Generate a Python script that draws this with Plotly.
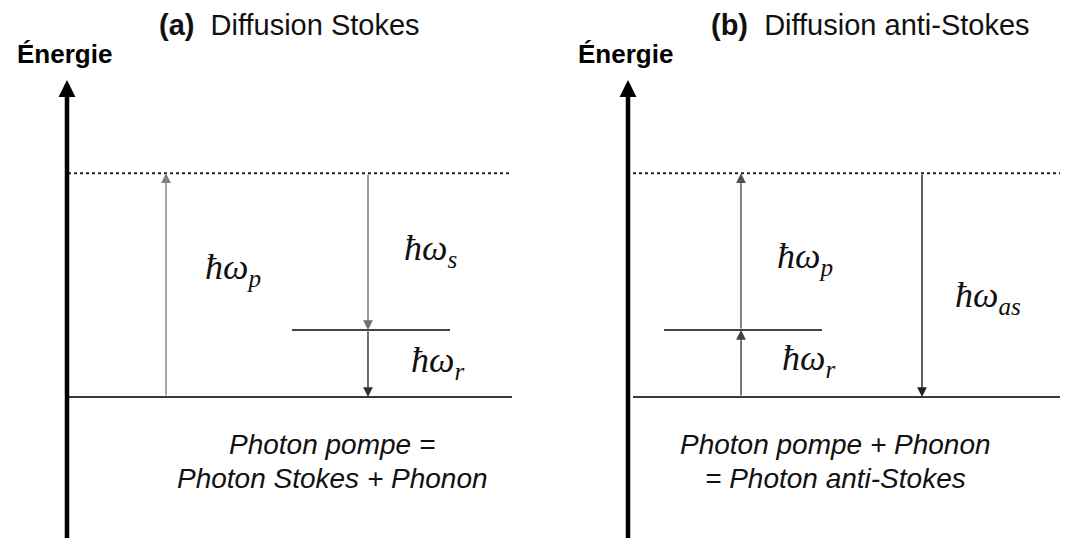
import plotly.graph_objects as go

# Energy levels (in units of the phonon energy ħω_r)
E_ground = 0.0
E_vib = 1.0
E_virtual = 3.34

# Panel definitions
panel_tags = ["(a)", "(b)"]
panel_titles = ["Diffusion Stokes", "Diffusion anti-Stokes"]
title_x = [289, 870]
energy_label = "Énergie"
axis_x = [67, 628]
level_x0 = [68, 633]
level_x1 = [512, 1068]
vib_x0 = [292, 664]
vib_x1 = [450, 822]
captions = [["Photon pompe =", "Photon Stokes + Phonon"],
            ["Photon pompe + Phonon", "= Photon anti-Stokes"]]
caption_x = [332, 835]

# Transitions: x position, start level, end level, colour
trans_x = [166, 368, 368, 741, 741, 922]
trans_from = [E_ground, E_virtual, E_vib, E_ground, E_vib, E_virtual]
trans_to = [E_virtual, E_vib, E_ground, E_vib, E_virtual, E_ground]
trans_color = ["#808080", "#707070", "#303030", "#404040", "#505050", "#202020"]

# Energy labels: subscript, x, level position
lab_sub = ["p", "s", "r", "p", "as", "r"]
lab_x = [233, 430, 437, 805, 988, 808]
lab_E = [1.9, 2.19, 0.52, 2.06, 1.49, 0.54]

# page offset compensation (default body margin of the html page)
X_RANGE = [8, 1076]
Y_RANGE = [-2.224, 5.806]

fig = go.Figure()
fig.add_trace(go.Scatter(x=X_RANGE, y=Y_RANGE, mode="markers",
                         marker=dict(opacity=0), hoverinfo="skip", showlegend=False))

shapes = []
annotations = []
for i in range(2):
    shapes.append(dict(type="line", xref="x", yref="y", x0=level_x0[i], x1=level_x1[i],
                       y0=E_virtual, y1=E_virtual, line=dict(color="#222", width=2, dash="dot")))
    shapes.append(dict(type="line", xref="x", yref="y", x0=level_x0[i], x1=level_x1[i],
                       y0=E_ground, y1=E_ground, line=dict(color="#3a3a3a", width=2)))
    shapes.append(dict(type="line", xref="x", yref="y", x0=vib_x0[i], x1=vib_x1[i],
                       y0=E_vib, y1=E_vib, line=dict(color="#444", width=2)))
    annotations.append(dict(x=axis_x[i], y=4.73, ax=axis_x[i], ay=-2.4, xref="x", yref="y",
                            axref="x", ayref="y", text="", showarrow=True, arrowhead=2,
                            arrowsize=0.75, arrowwidth=4.5, arrowcolor="black"))
    annotations.append(dict(x=axis_x[i] - 3, y=5.12, xref="x", yref="y", text="<b>" + energy_label + "</b>",
                            showarrow=False, font=dict(family="Liberation Sans", size=26, color="black")))
    annotations.append(dict(x=title_x[i], y=5.55, xref="x", yref="y",
                            text="<b>" + panel_tags[i] + "</b>  " + panel_titles[i],
                            showarrow=False, borderpad=0,
                            font=dict(family="Liberation Sans", size=29, color="#111")))
    annotations.append(dict(x=caption_x[i], y=-0.716, xref="x", yref="y",
                            text="<i>" + captions[i][0] + "</i>",
                            showarrow=False, font=dict(family="Liberation Sans", size=28, color="#111")))
    annotations.append(dict(x=caption_x[i], y=-1.209, xref="x", yref="y",
                            text="<i>" + captions[i][1] + "</i>",
                            showarrow=False, font=dict(family="Liberation Sans", size=28, color="#111")))

for x, e0, e1, c in zip(trans_x, trans_from, trans_to, trans_color):
    annotations.append(dict(x=x, y=e1, ax=x, ay=e0, xref="x", yref="y", axref="x", ayref="y",
                            text="", showarrow=True, arrowhead=2, arrowsize=1.4, arrowwidth=1.4,
                            arrowcolor=c))

for s, x, e in zip(lab_sub, lab_x, lab_E):
    annotations.append(dict(x=x, y=e, xref="x", yref="y",
                            text="<i>ħω</i><sub><i>" + s + "</i></sub>",
                            showarrow=False, font=dict(family="Liberation Serif", size=36, color="#111")))

fig.update_layout(
    width=1068, height=538,
    margin=dict(l=0, r=0, t=0, b=0),
    paper_bgcolor="white", plot_bgcolor="white",
    xaxis=dict(range=X_RANGE, visible=False, fixedrange=True),
    yaxis=dict(range=Y_RANGE, visible=False, fixedrange=True),
    shapes=shapes, annotations=annotations, showlegend=False,
)
fig.write_html("out.html")
